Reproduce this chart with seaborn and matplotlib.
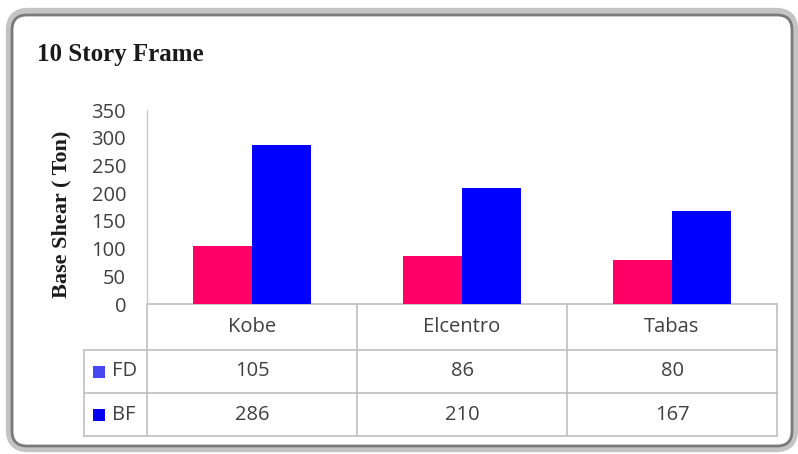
import matplotlib
matplotlib.use("Agg")
import matplotlib.pyplot as plt
import seaborn as sns
import pandas as pd
from matplotlib.patches import FancyBboxPatch, Rectangle

categories = ["Kobe", "Elcentro", "Tabas"]
series_names = ["FD", "BF"]
fd_values = [105, 86, 80]
bf_values = [286, 210, 167]
yticks = [0, 50, 100, 150, 200, 250, 300, 350]
title = "10 Story Frame"
ylabel = "Base Shear ( Ton)"

df = pd.DataFrame({
    "case": categories * 2,
    "series": [series_names[0]] * 3 + [series_names[1]] * 3,
    "value": fd_values + bf_values,
})

sns.set_theme(style="white")
plt.rcParams["font.family"] = ["Open Sans", "DejaVu Sans"]

W, H = 798, 454
fig = plt.figure(figsize=(W / 100, H / 100), dpi=100)
fig.patch.set_facecolor("white")

# overlay axes in pixel coordinates for frame and table
ov = fig.add_axes([0, 0, 1, 1], zorder=0)
ov.set_xlim(0, W)
ov.set_ylim(H, 0)
ov.axis("off")

# frame with shadow
ov.add_patch(FancyBboxPatch((10, 12), 784, 436, boxstyle="round,pad=0,rounding_size=18",
                            facecolor="none", edgecolor="#c4c4c4", linewidth=6))
ov.add_patch(FancyBboxPatch((12, 15), 780, 431, boxstyle="round,pad=0,rounding_size=15",
                            facecolor="white", edgecolor="#7a7a7a", linewidth=2))

# plot area
left, right, top, bottom = 147, 777, 110, 304
ax = fig.add_axes([left / W, 1 - bottom / H, (right - left) / W, (bottom - top) / H], zorder=2)
ax.patch.set_alpha(0)
palette = {"FD": "#ff0066", "BF": "#0000ff"}
sns.barplot(data=df, x="case", y="value", hue="series", palette=palette,
            width=0.56, saturation=1, legend=False, ax=ax, edgecolor="none", linewidth=0)
ax.set_ylim(0, 350)
ax.set_xlim(-0.5, 2.5)
ax.set_yticks(yticks)
ax.set_yticklabels([str(t) for t in yticks], fontsize=14.5, color="#404040")
ax.tick_params(axis="y", length=0, pad=15)
ax.set_xticks([])
ax.set_xlabel("")
ax.set_ylabel("")
for s in ["top", "right", "bottom"]:
    ax.spines[s].set_visible(False)
ax.spines["left"].set_color("#c8c8c8")
ax.spines["left"].set_linewidth(1)

# title and y label
fig.text(37 / W, 1 - 55 / H, title, fontsize=18, fontweight="bold",
         family="Liberation Serif", color="#1a1a1a", va="center", ha="left")
fig.text(61 / W, 1 - 214 / H, ylabel, fontsize=16, fontweight="bold",
         family="Liberation Serif", color="#1a1a1a", rotation=90, va="center", ha="center")

# data table
grid = "#bfbfbf"
col_x = [147, 357, 567, 777]
row_y = [304, 350, 393, 436]
lx = 84
ov.plot([col_x[0], col_x[-1]], [row_y[0], row_y[0]], color=grid, lw=1.2)
for y in row_y[1:]:
    ov.plot([lx, col_x[-1]], [y, y], color=grid, lw=1.2)
for x in col_x:
    ov.plot([x, x], [row_y[0], row_y[-1]], color=grid, lw=1.2)
ov.plot([lx, lx], [row_y[1], row_y[-1]], color=grid, lw=1.2)

txt_color = "#404040"
fs = 14.5
for i, cat in enumerate(categories):
    cx = (col_x[i] + col_x[i + 1]) / 2
    ov.text(cx, (row_y[0] + row_y[1]) / 2, cat, ha="center", va="center", fontsize=fs, color=txt_color)
    ov.text(cx, (row_y[1] + row_y[2]) / 2, str(fd_values[i]), ha="center", va="center", fontsize=fs, color=txt_color)
    ov.text(cx, (row_y[2] + row_y[3]) / 2, str(bf_values[i]), ha="center", va="center", fontsize=fs, color=txt_color)

swatch = {"FD": "#4848f0", "BF": "#0000ee"}
for j, name in enumerate(series_names):
    cy = (row_y[j + 1] + row_y[j + 2]) / 2
    ov.add_patch(Rectangle((93, cy - 6), 12, 12, facecolor=swatch[name], edgecolor="none"))
    ov.text(112, cy, name, ha="left", va="center", fontsize=fs, color=txt_color)

fig.savefig("out.png", dpi=100)
